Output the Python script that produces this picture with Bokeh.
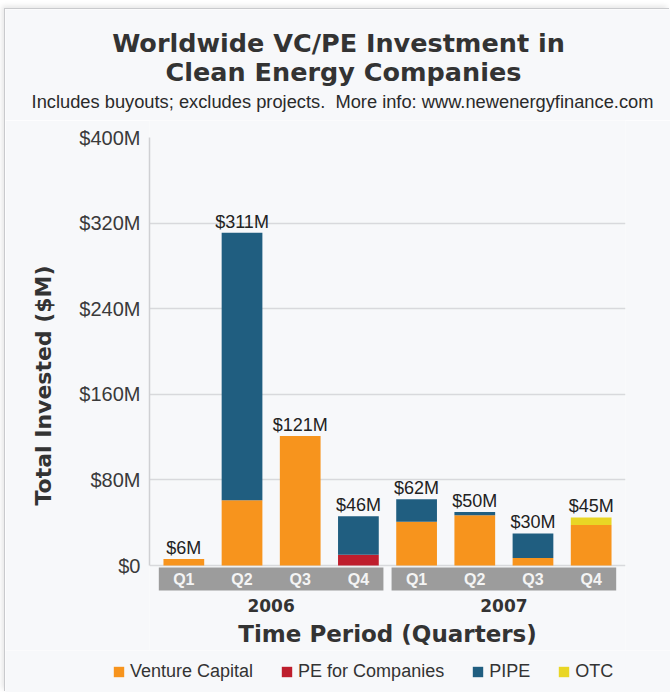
from bokeh.plotting import figure
from bokeh.layouts import column
from bokeh.models import FactorRange, Range1d, FixedTicker, Label, ColumnDataSource
from bokeh.core.properties import value
from bokeh.embed import file_html
from bokeh.resources import INLINE

# ---- data ----
years = ["2006", "2007"]
quarters = ["Q1", "Q2", "Q3", "Q4"]
series = ["Venture Capital", "PE for Companies", "PIPE", "OTC"]
colors = ["#f7941d", "#be1e2d", "#205e80", "#e9d625"]
venture_capital = [6, 61, 121, 0, 41, 47, 7, 38]
pe_for_companies = [0, 0, 0, 10, 0, 0, 0, 0]
pipe = [0, 250, 0, 36, 21, 3, 23, 0]
otc = [0, 0, 0, 0, 0, 0, 0, 7]
totals = [6, 311, 121, 46, 62, 50, 30, 45]
y_ticks = [0, 80, 160, 240, 320, 400]
y_tick_labels = ["$0", "$80M", "$160M", "$240M", "$320M", "$400M"]

factors = [(y, q) for y in years for q in quarters]

source = ColumnDataSource(dict(
    x=factors,
    q=[f[1] for f in factors],
    totals=totals,
    labels=["$%dM" % t for t in totals],
    **{series[0]: venture_capital, series[1]: pe_for_companies,
       series[2]: pipe, series[3]: otc}))
year_source = ColumnDataSource(dict(year=years))

BG = "#f7f8fa"
DARK = "#333333"
HEAVY = value("DejaVu Sans")
SANS = value("Liberation Sans")
W = 665
NAN = float("nan")


def bare_figure(height, **kw):
    f = figure(width=W, height=height, output_backend="svg", toolbar_location=None,
               x_axis_location=None, y_axis_location=None,
               min_border_left=0, min_border_right=0, min_border_top=0,
               min_border_bottom=0, background_fill_color=BG,
               border_fill_color=BG, outline_line_color=None,
               x_range=Range1d(0, 1), y_range=Range1d(0, 1), **kw)
    f.grid.visible = False
    f.frame_align = False
    return f


def add_label(fig, text, x, y, size, font, style="normal", color=DARK):
    fig.add_layout(Label(x=x, y=y, x_units="screen", y_units="screen", text=text,
                         text_align="center", text_baseline="middle",
                         text_font=font, text_font_style=style,
                         text_font_size=size, text_color=color))


# ---- title block ----
top = bare_figure(111)
add_label(top, "Worldwide VC/PE Investment in", 333, 78, "25.5px", "DejaVu Sans", "bold")
add_label(top, "Clean Energy Companies", 338, 49, "25.5px", "DejaVu Sans", "bold")
add_label(top, "Includes buyouts; excludes projects.\u00a0 More info: www.newenergyfinance.com",
          337, 19, "18.3px", "Liberation Sans", color="#2a2a2a")

# ---- main chart ----
p = figure(width=W, height=530,
           x_range=FactorRange(*factors, group_padding=0, range_padding=0.0225),
           y_range=Range1d(-79.4, 415.9),
           output_backend="svg", toolbar_location=None, x_axis_location=None,
           min_border_left=144, min_border_right=45, min_border_top=0,
           min_border_bottom=0,
           background_fill_color=BG, border_fill_color=BG,
           outline_line_color=None)
p.frame_align = False

yax = p.yaxis[0]
yax.ticker = FixedTicker(ticks=y_ticks)
yax.major_label_overrides = dict(zip(y_ticks, y_tick_labels))
yax.bounds = (0, 400)
yax.major_tick_line_color = None
yax.minor_tick_line_color = None
yax.axis_line_color = "#cfd0d3"
yax.axis_line_width = 1.5
yax.major_label_text_font = "Liberation Sans"
yax.major_label_text_font_size = "20px"
yax.major_label_text_color = "#3a3a3a"
yax.major_label_standoff = 3
yax.axis_label = "Total Invested ($M)"
yax.axis_label_text_font = "DejaVu Sans"
yax.axis_label_text_font_style = "bold"
yax.axis_label_text_font_size = "22px"
yax.axis_label_text_color = DARK
yax.axis_label_standoff = 20

p.xgrid.visible = False
p.ygrid.ticker = FixedTicker(ticks=[0, 80, 160, 240, 320])
p.ygrid.grid_line_color = "#d8d9dc"
p.ygrid.grid_line_width = 1.5

p.vbar_stack(series, x="x", width=0.7, color=colors, line_color=None, source=source)

p.text(x="x", y="totals", text="labels", source=source, text_align="center",
       text_baseline="bottom", y_offset=-1, text_font=SANS,
       text_font_size="18px", text_color="#222222")

p.rect(x="year", y=-12.6, width=3.86, height=21.5, source=year_source,
       fill_color="#9c9c9c", line_color=None)
p.text(x="x", y=-12.6, text="q", source=source, text_align="center",
       text_baseline="middle", text_font=SANS, text_font_style="bold",
       text_font_size="16px", text_color="#f4f4f4")
p.text(x="year", y=-37.4, text="year", source=year_source, text_align="center",
       text_baseline="middle", text_font=HEAVY, text_font_style="bold",
       text_font_size="17px", text_color=DARK)

add_label(p, "Time Period (Quarters)", 238, 17, "23px", "DejaVu Sans", "bold")

# ---- legend strip (swatch renderers carry no visible data) ----
leg = bare_figure(42)
for name, c in zip(series, colors):
    leg.rect(x=[NAN], y=[NAN], width=1, height=1, fill_color=c, line_color=None,
             legend_label=name)
lg = leg.legend[0]
lg.orientation = "horizontal"
lg.location = (107, 10)
lg.padding = 0
lg.margin = 0
lg.spacing = 27
lg.label_standoff = 5
lg.glyph_width = 13
lg.glyph_height = 13
lg.label_text_font = "Liberation Sans"
lg.label_text_font_size = "18px"
lg.label_text_color = DARK
lg.border_line_color = None
lg.background_fill_alpha = 0

layout = column(top, p, leg, spacing=0, margin=(9, 0, 0, 5),
                styles={"box-shadow": "-1px -1px 0px #c9cacd, -3px -3px 5px rgba(0,0,0,0.10)"})

open("out.html", "w").write(file_html(layout, INLINE))
